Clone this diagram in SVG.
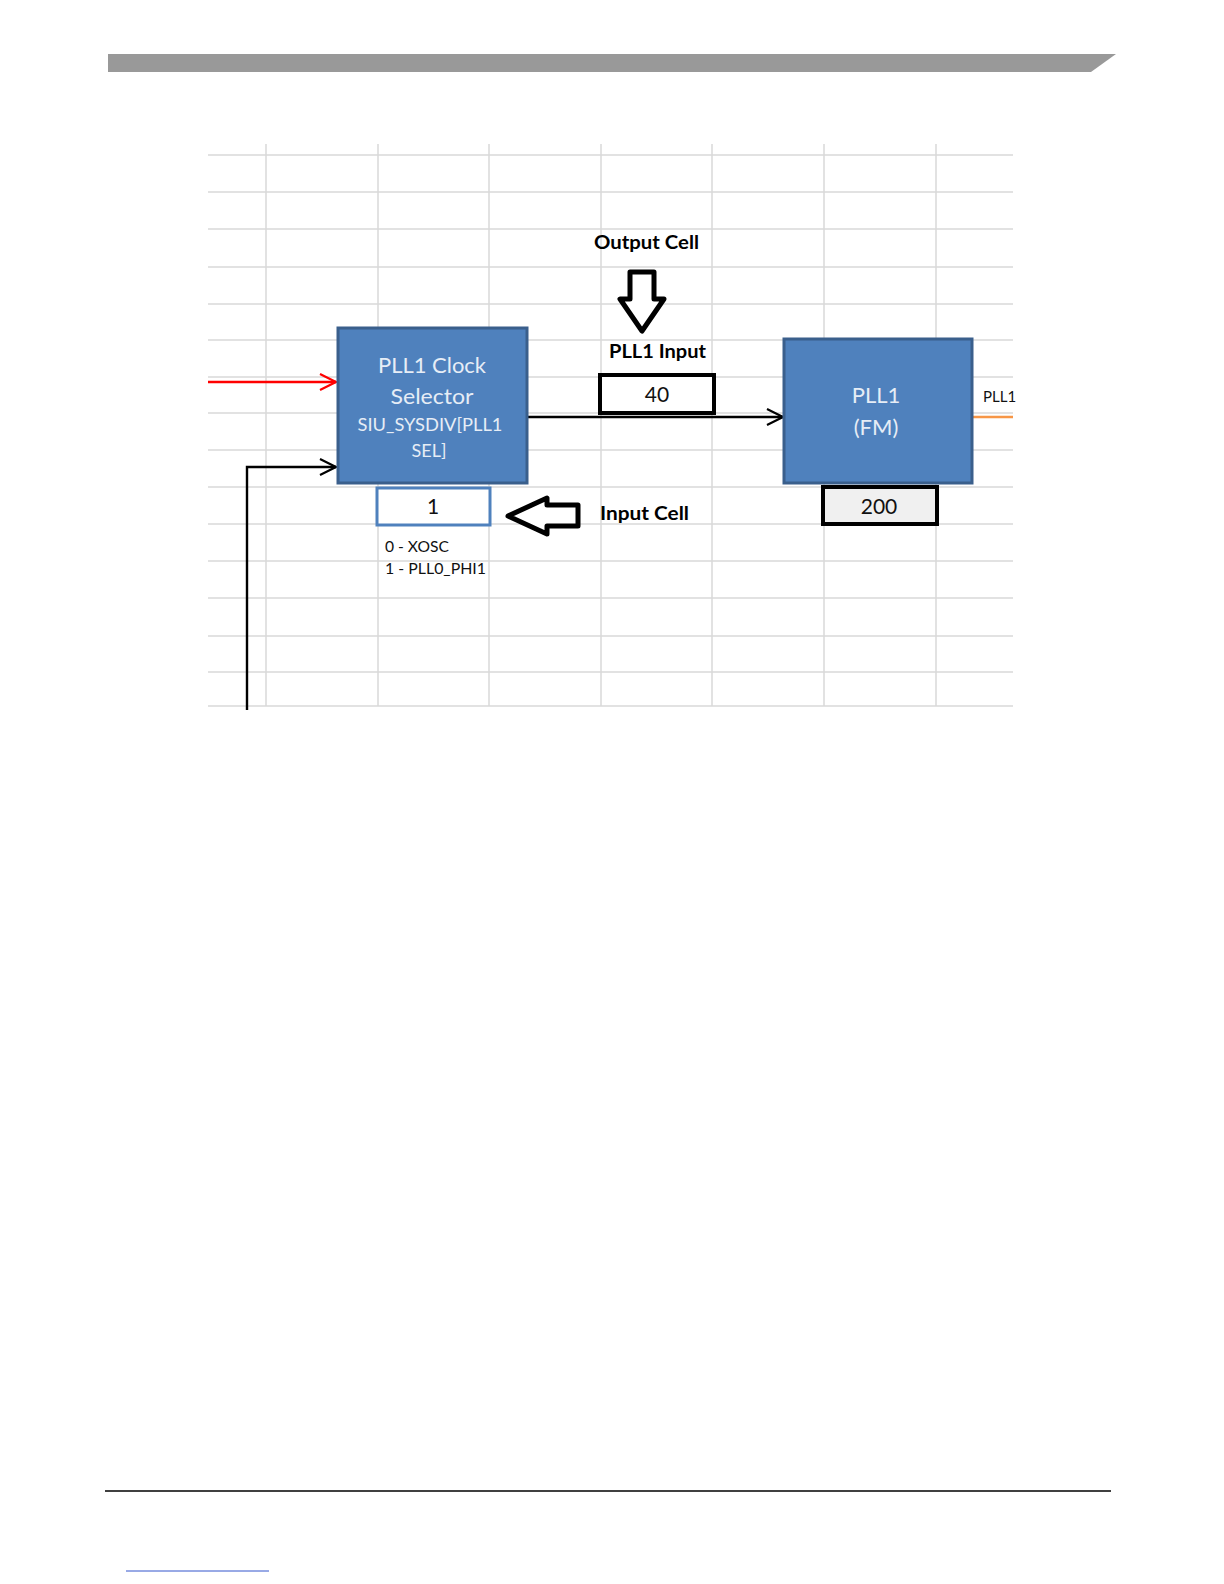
<svg xmlns="http://www.w3.org/2000/svg" width="1224" height="1584" viewBox="0 0 1224 1584">
<style>
.grid line{stroke:#d9d9d9;stroke-width:1.5}
.blk{fill:#4f81bd;stroke:#3a5f8c;stroke-width:3}
.btxt{font-family:Lato,"Liberation Sans",sans-serif;fill:#e6edf6;text-anchor:middle}
.lbl{font-family:Lato,"Liberation Sans",sans-serif;font-weight:bold;fill:#000;font-size:19px}
.num{font-family:Lato,"Liberation Sans",sans-serif;fill:#111;font-size:21px;text-anchor:middle}
.small{font-family:Lato,"Liberation Sans",sans-serif;fill:#111;font-size:15px}
.cell{stroke:#000;stroke-width:4}
.blockarrow{fill:#fff;stroke:#000;stroke-width:5;stroke-linejoin:round}
</style>
<defs>
<marker id="ab" markerUnits="userSpaceOnUse" markerWidth="18" markerHeight="18" viewBox="0 0 18 18" refX="17" refY="9" orient="auto">
<path d="M1,1 L17,9 L1,17" fill="none" stroke="#000" stroke-width="2.2"/>
</marker>
<marker id="ar" markerUnits="userSpaceOnUse" markerWidth="18" markerHeight="18" viewBox="0 0 18 18" refX="17" refY="9" orient="auto">
<path d="M1,1 L17,9 L1,17" fill="none" stroke="#ff0000" stroke-width="2.2"/>
</marker>
</defs>
<rect width="1224" height="1584" fill="#fff"/>
<g id="header">
<polygon points="108,54 1116,54 1091,72 108,72" fill="#999999"/>
</g>
<g id="footer">
<line x1="105" y1="1491" x2="1111" y2="1491" stroke="#000" stroke-width="1.6"/>
<line x1="126" y1="1571" x2="269" y2="1571" stroke="#3355cc" stroke-width="1"/>
</g>
<g class="grid">
<line x1="208" y1="155" x2="1013" y2="155"/>
<line x1="208" y1="192" x2="1013" y2="192"/>
<line x1="208" y1="229" x2="1013" y2="229"/>
<line x1="208" y1="267" x2="1013" y2="267"/>
<line x1="208" y1="304" x2="1013" y2="304"/>
<line x1="208" y1="340" x2="1013" y2="340"/>
<line x1="208" y1="377" x2="1013" y2="377"/>
<line x1="208" y1="413" x2="1013" y2="413"/>
<line x1="208" y1="450" x2="1013" y2="450"/>
<line x1="208" y1="487" x2="1013" y2="487"/>
<line x1="208" y1="524" x2="1013" y2="524"/>
<line x1="208" y1="561" x2="1013" y2="561"/>
<line x1="208" y1="598" x2="1013" y2="598"/>
<line x1="208" y1="636" x2="1013" y2="636"/>
<line x1="208" y1="672" x2="1013" y2="672"/>
<line x1="208" y1="706" x2="1013" y2="706"/>
<line x1="266" y1="144" x2="266" y2="706"/>
<line x1="378" y1="144" x2="378" y2="706"/>
<line x1="489" y1="144" x2="489" y2="706"/>
<line x1="601" y1="144" x2="601" y2="706"/>
<line x1="712" y1="144" x2="712" y2="706"/>
<line x1="824" y1="144" x2="824" y2="706"/>
<line x1="936" y1="144" x2="936" y2="706"/>
</g>
<g id="connectors">
<line x1="208" y1="382" x2="336" y2="382" stroke="#ff0000" stroke-width="2.4" marker-end="url(#ar)"/>
<polyline points="247,710 247,467 336,467" fill="none" stroke="#000" stroke-width="2.4" marker-end="url(#ab)"/>
<line x1="527" y1="417" x2="783" y2="417" stroke="#000" stroke-width="2.4" marker-end="url(#ab)"/>
<line x1="973" y1="417" x2="1013" y2="417" stroke="#f79646" stroke-width="2.5"/>
</g>
<g id="pll1-clock-selector">
<rect class="blk" x="338" y="328" width="189" height="155"/>
<text class="btxt" x="432" y="373" font-size="22" textLength="108" lengthAdjust="spacingAndGlyphs">PLL1 Clock</text>
<text class="btxt" x="432" y="404" font-size="22" textLength="83" lengthAdjust="spacingAndGlyphs">Selector</text>
<text class="btxt" x="430" y="431" font-size="18" textLength="145" lengthAdjust="spacingAndGlyphs">SIU_SYSDIV[PLL1</text>
<text class="btxt" x="429" y="457" font-size="18">SEL]</text>
</g>
<g id="input-cell-1">
<rect x="377" y="488" width="113" height="37" fill="#fff" stroke="#4f81bd" stroke-width="3"/>
<text class="num" x="433" y="514">1</text>
<text class="small" x="385" y="552" textLength="64" lengthAdjust="spacingAndGlyphs">0 - XOSC</text>
<text class="small" x="385" y="574" textLength="101" lengthAdjust="spacingAndGlyphs">1 - PLL0_PHI1</text>
</g>
<g id="input-cell-arrow">
<polygon class="blockarrow" points="508,516 547,498 547,505 578,505 578,526 547,526 547,534"/>
<text class="lbl" x="600" y="520" textLength="89" lengthAdjust="spacingAndGlyphs">Input Cell</text>
</g>
<g id="output-cell-arrow">
<text class="lbl" x="594" y="249" textLength="105" lengthAdjust="spacingAndGlyphs">Output Cell</text>
<polygon class="blockarrow" points="630,272 654,272 654,299 664,299 642,331 620,299 630,299"/>
</g>
<g id="pll1-input">
<text class="lbl" x="609" y="358" textLength="97" lengthAdjust="spacingAndGlyphs">PLL1  Input</text>
<rect class="cell" x="600" y="375" width="114" height="38" fill="#fff"/>
<text class="num" x="657" y="402">40</text>
</g>
<g id="pll1-fm">
<rect class="blk" x="784" y="339" width="188" height="144"/>
<text class="btxt" x="876" y="403" font-size="22">PLL1</text>
<text class="btxt" x="876" y="435" font-size="22">(FM)</text>
<rect class="cell" x="823" y="487" width="114" height="37" fill="#f0f0f0"/>
<text class="num" x="879" y="514" font-size="22">200</text>
</g>
<g id="pll1-out-label">
<text class="small" x="983" y="402">PLL1</text>
</g>
</svg>
